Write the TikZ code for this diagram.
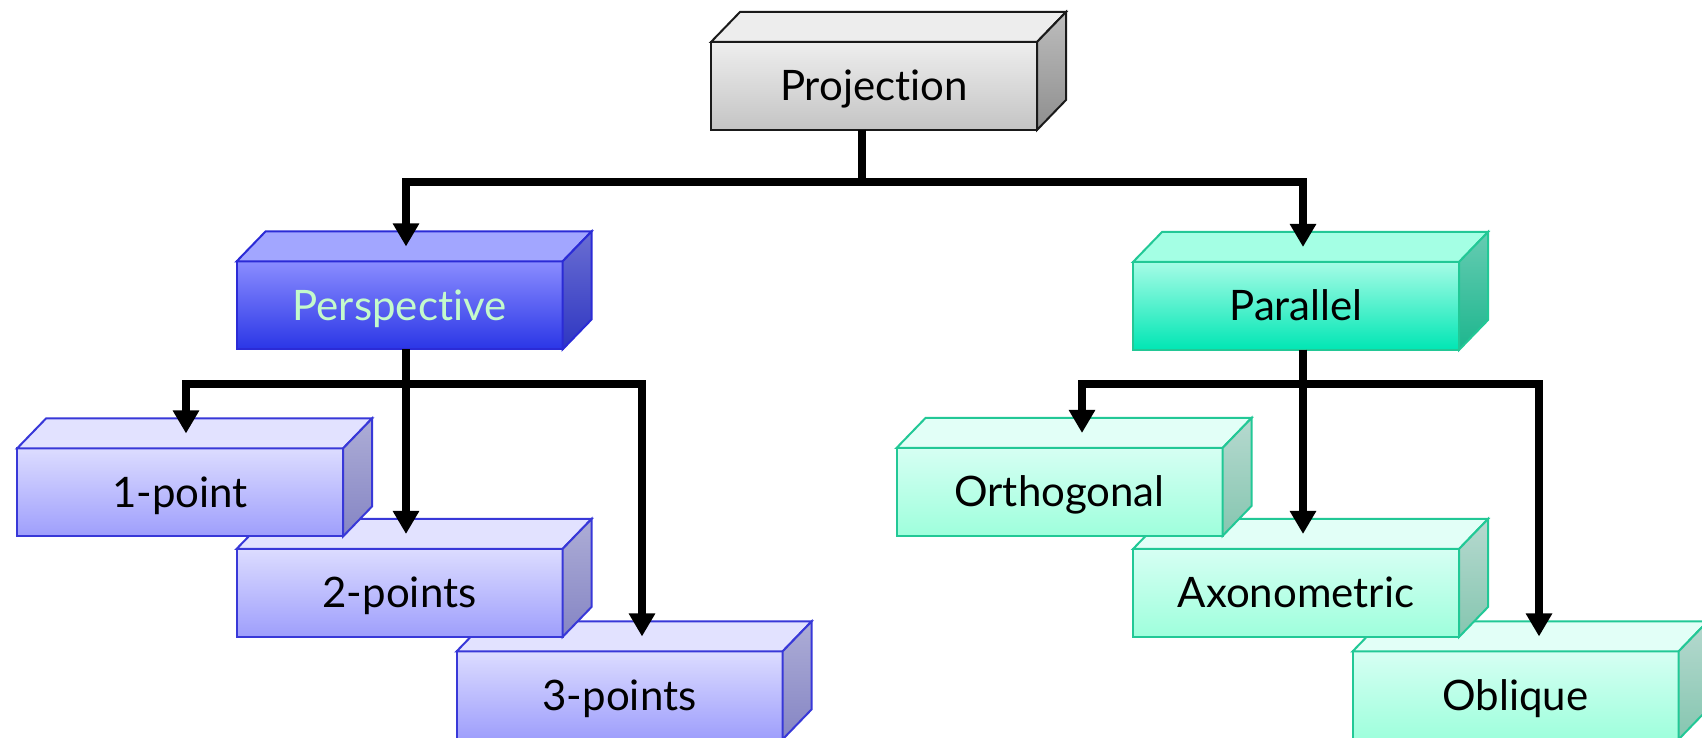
\documentclass[tikz,border=0pt]{standalone}
\usepackage{fontspec}
\setmainfont{Lato}[Ligatures={NoCommon}]
\usetikzlibrary{arrows.meta,calc}
\tikzset{>={Triangle[length=23pt,width=25pt]}}

\definecolor{greyline}{HTML}{1A1A1A}
\definecolor{deepline}{HTML}{2B2BD6}
\definecolor{paleline}{HTML}{3838D8}
\definecolor{mintline}{HTML}{22C896}
\definecolor{persptext}{HTML}{C4FACB}

\tikzstyle{slab}=[rectangle,minimum width=326pt,minimum height=88pt,
                  inner sep=0pt,outer sep=0pt,line width=2pt,
                  text height=30pt,text depth=0pt,
                  font=\fontsize{42}{50}\selectfont]
% grey root box
\tikzstyle{grey front}=[slab,draw=greyline,top color={rgb,255:red,238;green,238;blue,238},
                        bottom color={rgb,255:red,196;green,196;blue,196}]
\tikzstyle{grey top}=[line width=2pt,draw=greyline,fill={rgb,255:red,237;green,237;blue,237}]
\tikzstyle{grey side}=[line width=2pt,draw=greyline,top color={rgb,255:red,189;green,189;blue,189},
                       bottom color={rgb,255:red,142;green,142;blue,142}]
% deep blue (perspective)
\tikzstyle{deep front}=[slab,draw=deepline,text=persptext,
                        top color={rgb,255:red,138;green,140;blue,255},
                        bottom color={rgb,255:red,42;green,54;blue,230}]
\tikzstyle{deep top}=[line width=2pt,draw=deepline,fill={rgb,255:red,162;green,166;blue,255}]
\tikzstyle{deep side}=[line width=2pt,draw=deepline,top color={rgb,255:red,106;green,110;blue,210},
                       bottom color={rgb,255:red,46;green,54;blue,194}]
% pale blue leaves
\tikzstyle{pale front}=[slab,draw=paleline,top color={rgb,255:red,220;green,220;blue,255},
                        bottom color={rgb,255:red,158;green,158;blue,252}]
\tikzstyle{pale top}=[line width=2pt,draw=paleline,fill={rgb,255:red,226;green,226;blue,255}]
\tikzstyle{pale side}=[line width=2pt,draw=paleline,top color={rgb,255:red,173;green,173;blue,214},
                       bottom color={rgb,255:red,133;green,133;blue,196}]
% strong mint (parallel)
\tikzstyle{mint front}=[slab,draw=mintline,top color={rgb,255:red,166;green,252;blue,230},
                        bottom color={rgb,255:red,0;green,230;blue,180}]
\tikzstyle{mint top}=[line width=2pt,draw=mintline,fill={rgb,255:red,164;green,255;blue,228}]
\tikzstyle{mint side}=[line width=2pt,draw=mintline,top color={rgb,255:red,102;green,204;blue,178},
                       bottom color={rgb,255:red,29;green,182;blue,142}]
% light mint leaves
\tikzstyle{lmint front}=[slab,draw=mintline,top color={rgb,255:red,214;green,255;blue,243},
                         bottom color={rgb,255:red,158;green,255;blue,220}]
\tikzstyle{lmint top}=[line width=2pt,draw=mintline,fill={rgb,255:red,226;green,255;blue,247}]
\tikzstyle{lmint side}=[line width=2pt,draw=mintline,top color={rgb,255:red,182;green,217;blue,207},
                        bottom color={rgb,255:red,133;green,198;blue,176}]

\tikzstyle{link}=[line width=7.5pt,black]

% front face is the node, top and side faces follow its corners
\newcommand{\slab}[4]{%
  \node[#3 front] (#1) at (#2) {#4};
  \draw[#3 top] (#1.north west) -- ++(\dx,\dy)
    -- ([shift={(\dx,\dy)}]#1.north east) -- (#1.north east) -- cycle;
  \draw[#3 side] (#1.north east) -- ([shift={(\dx,\dy)}]#1.north east)
    -- ([shift={(\dx,\dy)}]#1.south east) -- (#1.south east) -- cycle;
}

\begin{document}
\begin{tikzpicture}[x=1pt,y=1pt]
  \def\dx{29} % depth of the boxes
  \def\dy{30}
  \useasboundingbox (0,0) rectangle (1702,738);
  \clip (0,0) rectangle (1702,738);

  % ROOT
  \slab{proj}{874,652}{grey}{Projection}

  % SECOND ROW
  \slab{persp}{399.5,432.5}{deep}{Perspective}
  \slab{paral}{1296,432}{mint}{Parallel}

  % LEAVES, lowest first so the upper ones overlap
  \slab{threept}{619.5,42.5}{pale}{3-points}
  \slab{twopt}{399.5,145}{pale}{2-points}
  \slab{onept}{180,245.5}{pale}{1-point}
  \slab{obliq}{1515.5,42.5}{lmint}{Oblique}
  \slab{axono}{1296,145}{lmint}{Axonometric}
  \slab{ortho}{1059.5,246}{lmint}{Orthogonal}

  % CONNECTORS
  \coordinate (rootbar) at (0,556);
  \coordinate (subbar) at (0,354);
  \coordinate (s-proj) at ($(proj.south)+(-12,0)$);
  \coordinate (s-persp) at ($(persp.south)+(6.5,0)$);
  \coordinate (s-paral) at ($(paral.south)+(7,0)$);
  \coordinate (t-persp) at ($(persp.north)+(6.5,15)$);
  \coordinate (t-paral) at ($(paral.north)+(7,15)$);
  \coordinate (t-onept) at ($(onept.north)+(6,15)$);
  \coordinate (t-twopt) at ($(twopt.north)+(6.5,15)$);
  \coordinate (t-threept) at ($(threept.north)+(22.5,15)$);
  \coordinate (t-ortho) at ($(ortho.north)+(22.5,15)$);
  \coordinate (t-axono) at ($(axono.north)+(7,15)$);
  \coordinate (t-obliq) at ($(obliq.north)+(23.5,15)$);

  \foreach \t in {t-persp,t-paral}
    \draw[link,->] (s-proj) -- (s-proj |- rootbar) -| (\t);
  \foreach \t in {t-onept,t-twopt,t-threept}
    \draw[link,->] (s-persp) -- (s-persp |- subbar) -| (\t);
  \foreach \t in {t-ortho,t-axono,t-obliq}
    \draw[link,->] (s-paral) -- (s-paral |- subbar) -| (\t);
\end{tikzpicture}
\end{document}
